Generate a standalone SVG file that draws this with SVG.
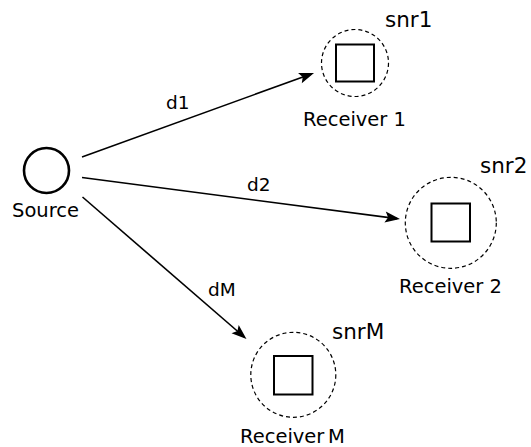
<svg xmlns="http://www.w3.org/2000/svg" width="531" height="447" viewBox="0 0 531 447">
  <style>
    text { font-family: "DejaVu Sans", "Liberation Sans", sans-serif; fill: #000; }
    .name { font-size: 19.5px; }
    .snr { font-size: 21.5px; }
    .dist { font-size: 18.5px; }
    .edge { stroke: #000; stroke-width: 1.6; fill: none; marker-end: url(#arrow); }
    .range { fill: none; stroke: #000; stroke-width: 1.2; stroke-dasharray: 4 3; }
    .rx { fill: #fff; stroke: #000; stroke-width: 2; }
  </style>
  <defs>
    <marker id="arrow" markerUnits="userSpaceOnUse" markerWidth="24" markerHeight="16" viewBox="-14 -8 24 16" refX="0" refY="0" orient="auto" overflow="visible">
      <path d="M-12,-5.5 L3,0 L-12,5.5 L-9,0 Z" fill="#000"/>
    </marker>
  </defs>
  <rect width="531" height="447" fill="#fff"/>

  <g id="connectors">
    <line class="edge" x1="82" y1="157" x2="311.2" y2="74"/>
    <line class="edge" x1="82" y1="177.5" x2="397" y2="218.6"/>
    <line class="edge" x1="82.5" y1="197" x2="244.2" y2="337"/>
    <text class="dist" x="166" y="109">d1</text>
    <text class="dist" x="247" y="191">d2</text>
    <text class="dist" x="208" y="296">dM</text>
  </g>

  <g id="source">
    <circle cx="46.5" cy="170.5" r="22.5" fill="#fff" stroke="#000" stroke-width="2.6"/>
    <text class="name" x="12" y="217">Source</text>
  </g>

  <g id="receiver1">
    <circle class="range" cx="355" cy="63" r="33.5"/>
    <rect class="rx" x="336" y="44.5" width="38" height="37"/>
    <text class="name" x="303" y="126">Receiver 1</text>
    <text class="snr" x="385" y="27">snr1</text>
  </g>

  <g id="receiver2">
    <circle class="range" cx="450.8" cy="222.8" r="45.5"/>
    <rect class="rx" x="431.5" y="203.5" width="38.5" height="38"/>
    <text class="name" x="399" y="293">Receiver 2</text>
    <text class="snr" x="480" y="173">snr2</text>
  </g>

  <g id="receiverM">
    <circle class="range" cx="293.3" cy="374.8" r="42.5"/>
    <rect class="rx" x="274" y="356" width="38.5" height="38.5"/>
    <text class="name" x="240" y="443" word-spacing="-2.5">Receiver M</text>
    <text class="snr" x="332" y="339">snrM</text>
  </g>
</svg>
